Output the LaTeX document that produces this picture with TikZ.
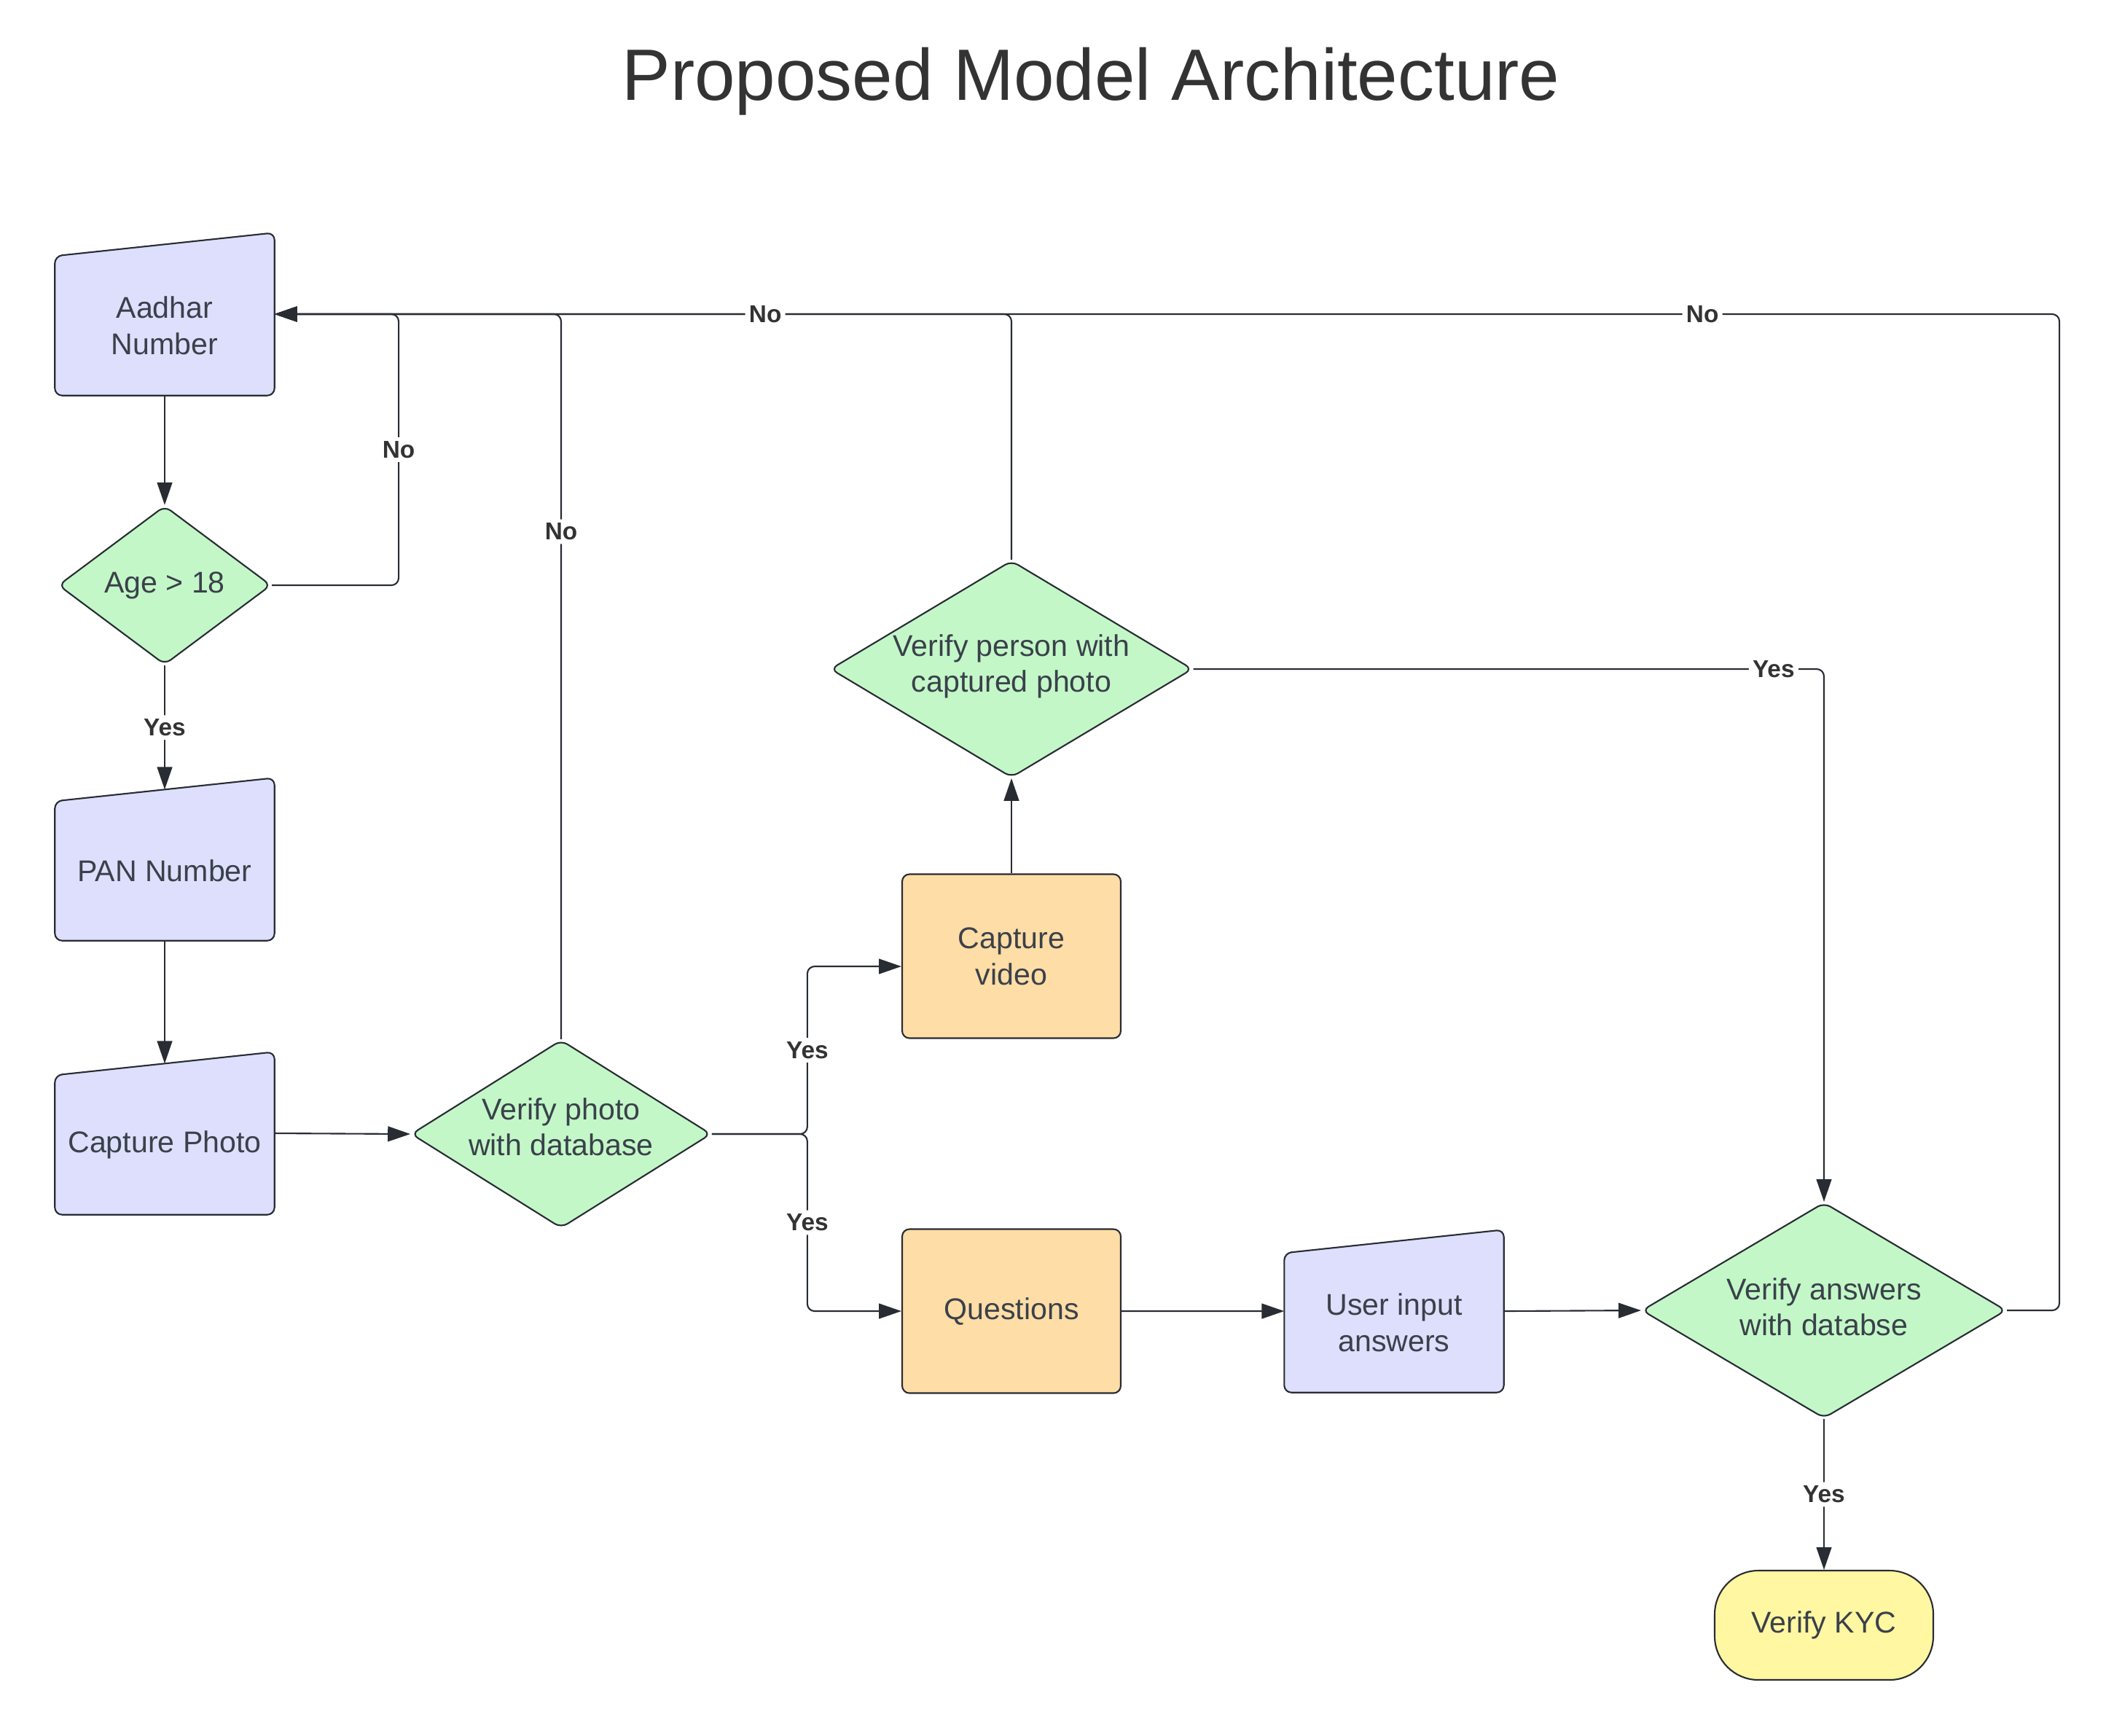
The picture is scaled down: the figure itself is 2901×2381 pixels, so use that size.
\documentclass[tikz,border=0pt]{standalone}
\usepackage{fontspec}
\setmainfont{Liberation Sans}
\usetikzlibrary{arrows.meta}
\usetikzlibrary{shapes.geometric}
\usetikzlibrary{backgrounds}

\definecolor{inblue}{RGB}{222,223,252}
\definecolor{decgreen}{RGB}{195,247,200}
\definecolor{procorange}{RGB}{255,221,166}
\definecolor{endyellow}{RGB}{255,247,161}
\definecolor{linegray}{RGB}{40,44,51}
\definecolor{textgray}{RGB}{58,65,74}

\tikzset{
  txt/.style={font=\fontsize{11.7}{14.2}\selectfont, text=textgray, align=center},
  inbox/.style={txt, minimum width=30mm, minimum height=19mm, inner sep=0pt},
  inshape/.style={fill=inblue, draw=linegray, line width=0.6pt, rounded corners=1mm},
  decbox/.style={txt, diamond, aspect=1.6, fill=decgreen, draw=linegray, line width=0.6pt, rounded corners=1mm, inner sep=0pt},
  procbox/.style={txt, rectangle, fill=procorange, draw=linegray, line width=0.6pt, rounded corners=1mm, minimum width=30mm, minimum height=22.5mm},
  endbox/.style={txt, rectangle, fill=endyellow, draw=linegray, line width=0.6pt, rounded corners=6mm, minimum width=30mm, minimum height=15mm},
  conn/.style={draw=linegray, line width=0.6pt, rounded corners=1mm, -{Triangle[length=8.8pt,width=5.9pt]}},
  lbl/.style={font=\fontsize{9.5}{11}\selectfont\bfseries, text=black!80, fill=white, inner sep=1.5pt}
}

\begin{document}
\begin{tikzpicture}[x=0.1mm,y=-0.1mm]

    \useasboundingbox (0,0) rectangle (2901,2381);

    % title
    \node[font=\fontsize{28.4}{34}\selectfont, text=black!80] (title) at (1497,112) {Proposed Model Architecture};

    % steps
    \node[inbox] (aad) at (226,447) {Aadhar\\Number};
    \node[decbox, minimum width=29.2mm, minimum height=21.8mm] (age) at (226,803) {Age > 18};
    \node[inbox] (pan) at (226,1195) {PAN Number};
    \node[inbox] (cap) at (226,1571) {Capture Photo};
    \node[decbox, minimum width=40.7mm, minimum height=25.8mm] (vph) at (770,1556) {\raisebox{2mm}{\shortstack{Verify photo\\with database}}};
    \node[procbox] (vid) at (1388,1312) {Capture\\video};
    \node[decbox, minimum width=49.7mm, minimum height=29.7mm] (vp) at (1388,918) {\raisebox{1.6mm}{\shortstack{Verify person with\\captured photo}}};
    \node[procbox] (que) at (1388,1799) {Questions};
    \node[inbox] (usr) at (1913,1815) {User input\\answers};
    \node[decbox, minimum width=50mm, minimum height=29.6mm] (va) at (2503,1798) {\raisebox{1mm}{\shortstack{Verify answers\\with databse}}};
    \node[endbox] (kyc) at (2503,2230) {Verify KYC};

    % manual input shapes, slanted top
    \begin{scope}[on background layer]
      \fill[white] (0,0) rectangle (2901,2381);
      \foreach \n in {aad,pan,cap,usr}
        \draw[inshape] (\n.south west) -- (\n.north west) -- ([yshift=3.2mm]\n.north east) -- (\n.south east) -- cycle;
    \end{scope}

    \coordinate (aadin) at ([yshift=1.6mm]aad.east);
    \coordinate (panin) at ([yshift=1.6mm]pan.north);
    \coordinate (capin) at ([yshift=1.6mm]cap.north);
    \coordinate (capout) at ([yshift=1.6mm]cap.east);
    \coordinate (usrin) at ([yshift=1.6mm]usr.west);
    \coordinate (usrout) at ([yshift=1.6mm]usr.east);
    \coordinate (vidin) at ([yshift=-1.4mm]vid.west);

    % back to Aadhar number
    \draw[conn] (va.east) -- ++(72,0) |- node[lbl,pos=0.6]{No} (aadin);
    \draw[conn] (vp.north) |- node[lbl,pos=0.667]{No} (aadin);
    \draw[conn] (vph.north) |- node[lbl,pos=0.35]{No} (aadin);
    \draw[conn] (age.east) -- ++(174,0) |- node[lbl,pos=0.25]{No} (aadin);

    % forward
    \draw[conn] (aad.south) -- (age.north);
    \draw[conn] (age.south) -- node[lbl]{Yes} (panin);
    \draw[conn] (pan.south) -- (capin);
    \draw[conn] (capout) -- (vph.west);
    \draw[conn] (vph.east) -- ++(131,0) |- node[lbl,pos=0.25]{Yes} (vidin);
    \draw[conn] (vph.east) -- ++(131,0) |- node[lbl,pos=0.25]{Yes} (que.west);
    \draw[conn] (vid.north) -- (vp.south);
    \draw[conn] (vp.east) -| node[lbl,pos=0.46]{Yes} (va.north);
    \draw[conn] (que.east) -- (usrin);
    \draw[conn] (usrout) -- (va.west);
    \draw[conn] (va.south) -- node[lbl]{Yes} (kyc.north);

\end{tikzpicture}
\end{document}
